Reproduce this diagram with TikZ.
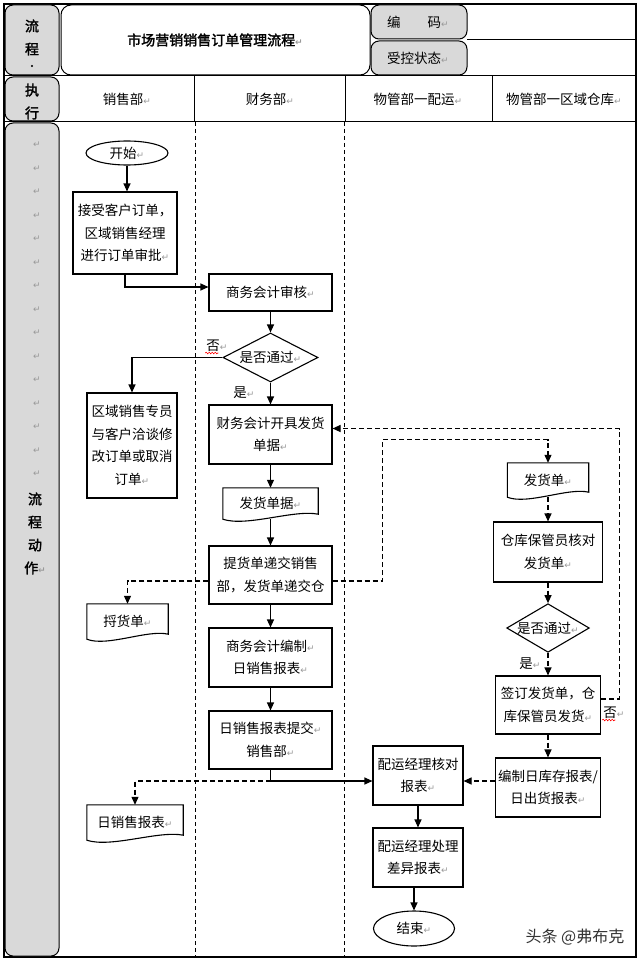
\documentclass[tikz,border=0pt]{standalone}
\usepackage{fontspec}
\setmainfont{Noto Sans CJK SC}[AutoFakeBold=2]
\newfontfamily\symfont{DejaVu Sans}
\usetikzlibrary{calc,arrows.meta,shapes.geometric,decorations.pathmorphing}
\newcommand{\rt}{{\symfont\fontsize{9}{9}\selectfont\color{black!40}↵}}% return mark
\newcommand{\docedge}[1]{%
  \draw [line width=1.1pt] (#1.north west) -- (#1.north east) -- ($(#1.south east)+(0,-5)$)
    .. controls ($(#1.south)!.5!(#1.south east)+(0,-10)$) and ($(#1.south)!.5!(#1.south west)+(0,8)$) .. (#1.south west) -- cycle;}

\begin{document}
\begin{tikzpicture}[x=1pt,y=-1pt,
    txt/.style={font=\fontsize{13.5}{22.5}\selectfont},
    head/.style={font=\bfseries\fontsize{14}{23}\selectfont,align=center},
    label/.style={txt,inner sep=1pt},
    box/.style={txt,draw,line width=1.1pt,align=center,inner sep=0pt},
    doc/.style={txt,inner sep=0pt},
    term/.style={txt,draw,ellipse,line width=1.1pt,inner sep=0pt},
    test/.style={txt,draw,diamond,line width=1.1pt,inner sep=0pt},
    side/.style={fill=black!15,draw=black,line width=1pt,rounded corners=8pt},
    lane/.style={line width=.8pt,dash pattern=on 4pt off 3pt},
    flow/.style={line width=1.1pt,-{Triangle[length=8pt,width=7pt]}},
    back/.style={flow,dash pattern=on 5pt off 3pt},
    spell/.style={red,line width=.6pt,decorate,decoration={snake,amplitude=.8pt,segment length=3pt}}]
    \useasboundingbox (0,0) rectangle (640,960);
    \fill [white] (0,0) rectangle (640,960);
    % form frame
    \draw [line width=1.6pt] (4,4) rectangle (636,957);
    \draw [line width=1pt] (4,76) -- (636,76) (4,122) -- (636,122) (467,40) -- (636,40);
    \draw [line width=1pt] (194,76) -- (194,122) (345,76) -- (345,122) (492,76) -- (492,122);
    \draw [lane] (195,122) -- (195,957) (344,122) -- (344,957);% lane borders
    \filldraw [side] (5,5) rectangle (59,75);
    \filldraw [side] (5,77) rectangle (59,121);
    \filldraw [side] (5,123) rectangle (59,956);
    \draw [line width=1pt,rounded corners=10pt] (61,5) rectangle (370,75);
    \filldraw [side] (371,5) rectangle (467,39);
    \filldraw [side] (371,41) rectangle (467,75);
    % header texts
    \node [head] (flowhd) at (32,37.5) {流\\程};
    \node [head,inner sep=0pt] (dot) at (32,66) {.};
    \node [head] (exec) at (32,101.5) {执\\行};
    \node [head] (title) at (215,40) {市场营销销售订单管理流程\rt};
    \node [txt] (code) at (418,22) {编\hspace{27pt}码\rt};
    \node [txt] (state) at (418,58) {受控状态\rt};
    \node [txt] (sales) at (127,99) {销售部\rt};
    \node [txt] (finance) at (270,99) {财务部\rt};
    \node [txt] (ship) at (418,99) {物管部一配运\rt};
    \node [txt] (store) at (564,99) {物管部一区域仓库\rt};
    \foreach \k in {0,...,14}% empty lines of the side cell
      \node [txt] (ret\k) at (37,145+23.5*\k) {\rt};
    \node [head] (act) at (35,533.5) {流\\程\\动\\作\rt};
    % flow steps
    \node [term,minimum width=82,minimum height=24] (start) at (127,153) {开始\rt};
    \node [box,minimum width=104,minimum height=82] (recv) at (125,233) {接受客户订单，\\区域销售经理\\进行订单审批\rt};
    \node [box,minimum width=123,minimum height=37] (audit) at (270.5,292.5) {商务会计审核\rt};
    \node [test,minimum width=95,minimum height=49,aspect=1.94] (pass1) at (270.5,357.5) {是否通过\rt};
    \node [label] (no1) at (217,346) {否\rt};
    \node [label] (yes1) at (244,393) {是\rt};
    \node [box,minimum width=90,minimum height=105] (modify) at (132,445.5) {区域销售专员\\与客户洽谈修\\改订单或取消\\订单\rt};
    \node [box,minimum width=123,minimum height=59] (invoice) at (270.5,434.5) {财务会计开具发货\\单据\rt};
    \node [doc,minimum width=95,minimum height=31] (slip) at (270.5,503.5) {发货单据\rt};
    \node [box,minimum width=123,minimum height=58] (deliver) at (270.5,575) {提货单递交销售\\部，发货单递交仓};
    \node [doc,minimum width=81,minimum height=35] (pick) at (127.5,621.5) {捋货单\rt};
    \node [box,minimum width=123,minimum height=59] (compile) at (270.5,657.5) {商务会计编制\rt\\日销售报表\rt};
    \node [box,minimum width=123,minimum height=58] (submit) at (270.5,740) {日销售报表提交\rt\\销售部\rt};
    \node [doc,minimum width=96,minimum height=35] (daily) at (135,822.5) {日销售报表\rt};
    \node [box,minimum width=90,minimum height=59] (check) at (418,775.5) {配运经理核对\\报表\rt};
    \node [box,minimum width=90,minimum height=59] (handle) at (418,857.5) {配运经理处理\\差异报表\rt};
    \node [term,minimum width=81,minimum height=35] (finish) at (414,928.5) {结束\rt};
    \node [doc,minimum width=81,minimum height=34] (order) at (548,480) {发货单\rt};
    \node [box,minimum width=109,minimum height=60] (verify) at (548,552) {仓库保管员核对\\发货单\rt};
    \node [test,minimum width=82,minimum height=48,aspect=1.7] (pass2) at (548,628) {是否通过\rt};
    \node [label] (yes2) at (530,664) {是\rt};
    \node [box,minimum width=105,minimum height=58] (sign) at (548,705) {签订发货单，仓\\库保管员发货\rt};
    \node [label] (no2) at (614,713) {否\rt};
    \node [box,minimum width=105,minimum height=59] (report) at (548,787.5) {编制日库存报表/\\日出货报表\rt};
    \docedge{slip}\docedge{pick}\docedge{daily}\docedge{order}% paper shapes
    \coordinate (checkin) at ([yshift=-5.5pt]check.west);
    % connectors
    \draw [flow] (start) -- (start |- recv.north);
    \draw [flow] (recv.south) |- ([yshift=5.5pt]audit.west);
    \draw [flow] (audit) -- (pass1);
    \draw [flow] (pass1.west) -| (modify.north);
    \draw [flow] (pass1) -- (invoice);
    \draw [flow] (invoice) -- (slip);
    \draw [flow] (slip) -- (deliver);
    \draw [flow] (deliver) -- (compile);
    \draw [flow] (compile) -- (submit);
    \draw [flow] (submit.south) |- (checkin);
    \draw [back] (submit.south |- checkin) -| (daily.north);
    \draw [back] ([yshift=-6pt]deliver.west) -| (pick.north);
    \draw [back] ([yshift=-6pt]deliver.east) -- ++(50,0) |- ([yshift=23pt]order.north) -- (order.north);
    \draw [back] (order) -- (verify);
    \draw [back] (verify) -- (pass2);
    \draw [back] (pass2) -- (sign);
    \draw [back] ([yshift=6pt]sign.east) -- ++(18,0) |- ([yshift=6pt]invoice.east);
    \draw [back] (sign) -- (report);
    \draw [back] ([yshift=6.5pt]report.west) -- ([yshift=-5.5pt]check.east);
    \draw [flow] (check) -- (handle);
    \draw [flow] (handle.south -| finish) -- (finish);
    \draw [spell] (no1.south west) -- ++(13,0);
    \draw [spell] (no2.south west) -- ++(13,0);
    \node [font=\fontsize{16}{16}\selectfont,text=black!80] (mark) at (575,937) {头条 @弗布克};
\end{tikzpicture}
\end{document}
